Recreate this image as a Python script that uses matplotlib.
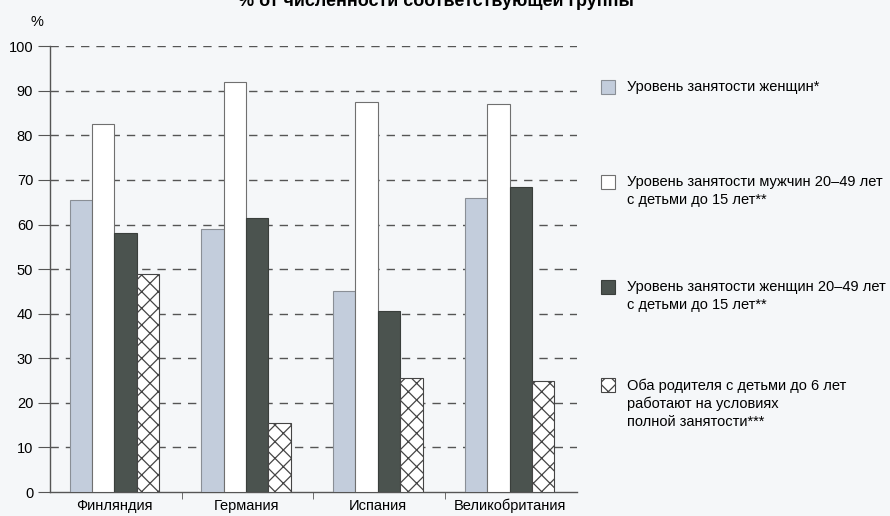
import matplotlib
matplotlib.use('Agg')
import matplotlib.pyplot as plt
import matplotlib.patches as mpatches
import numpy as np

plt.rcParams['font.family'] = ['Liberation Sans Narrow', 'Liberation Sans', 'DejaVu Sans']
plt.rcParams['hatch.linewidth'] = 0.9

countries = ['Финляндия', 'Германия', 'Испания', 'Великобритания']
women_all = [65.5, 59, 45, 66]
men_kids = [82.5, 92, 87.5, 87]
women_kids = [58, 61.5, 40.5, 68.5]
both_parents = [49, 15.5, 25.5, 25]

labels = ['Уровень занятости женщин*',
          'Уровень занятости мужчин 20–49 лет\nс детьми до 15 лет**',
          'Уровень занятости женщин 20–49 лет\nс детьми до 15 лет**',
          'Оба родителя с детьми до 6 лет\nработают на условиях\nполной занятости***']

bg = '#f5f7f9'
fig = plt.figure(figsize=(8.9, 5.16), dpi=100, facecolor=bg)
ax = fig.add_axes([0.056, 0.0465, 0.592, 0.864])
ax.set_facecolor(bg)

x = np.arange(len(countries)) + 0.49
w = 0.17
styles = [dict(color='#c3cddc', edgecolor='#8a8f96'),
          dict(color='white', edgecolor='#707070'),
          dict(color='#4b534f', edgecolor='#3a3f3c'),
          dict(color='white', edgecolor='#454545', hatch='xx')]
series = [women_all, men_kids, women_kids, both_parents]
handles = []
for i, (vals, st) in enumerate(zip(series, styles)):
    b = ax.bar(x + (i - 1.5) * w, vals, w, linewidth=0.8, zorder=3, **st)
    handles.append(b)

ax.set_xlim(0, 4)
ax.set_ylim(0, 100)
ax.set_yticks(range(0, 101, 10))
for yv in range(10, 101, 10):
    ax.axhline(yv, color='#555555', lw=1.0, ls=(0, (6, 5)), zorder=1)
ax.set_xticks(x)
ax.set_xticklabels(countries, fontsize=10.5)
ax.set_xticks([1, 2, 3], minor=True)
ax.tick_params(axis='x', which='major', length=0, pad=5)
ax.tick_params(axis='x', which='minor', length=5, color='#555555')
ax.tick_params(axis='y', length=9, color='#555555', labelsize=10.5, pad=3)
for s in ['top', 'right']:
    ax.spines[s].set_visible(False)
for s in ['left', 'bottom']:
    ax.spines[s].set_color('#555555')
    ax.spines[s].set_linewidth(1.0)

fig.text(0.042, 0.957, '%', fontsize=10.5, ha='center', va='center')
fig.text(0.49, 0.998, '% от численности соответствующей группы', fontsize=13,
         fontweight='bold', ha='center', va='center')

# legend drawn by hand
leg_y = [0.829, 0.645, 0.442, 0.252]
for h, lab, yy in zip(handles, labels, leg_y):
    p = h.patches[0]
    r = mpatches.Rectangle((0.675, yy - 0.012), 0.016, 0.027, transform=fig.transFigure,
                           facecolor=p.get_facecolor(), edgecolor=p.get_edgecolor(),
                           hatch=p.get_hatch(), linewidth=0.8)
    fig.patches.append(r)
    fig.text(0.705, yy + 0.015, lab, fontsize=10.5, ha='left', va='top', linespacing=1.35)

fig.savefig('out.png', dpi=100, facecolor=bg)
